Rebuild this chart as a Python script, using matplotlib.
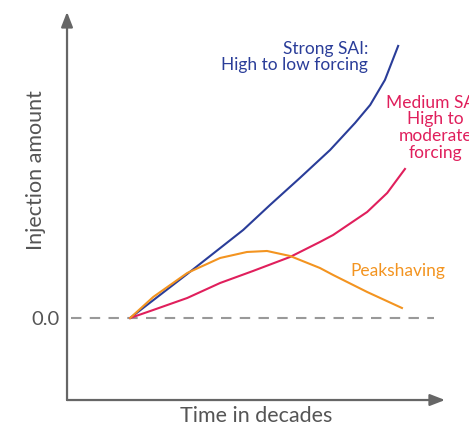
import matplotlib.pyplot as plt

plt.rcParams["font.family"] = ["Lato", "DejaVu Sans"]

# time in decades / injection amount
strong_x = [1.67, 3.18, 4.66, 5.37, 6.16, 6.96, 7.62, 8.02, 8.41, 8.76]
strong_y = [0.0, 0.44, 0.88, 1.13, 1.40, 1.68, 1.95, 2.13, 2.38, 2.72]

medium_x = [1.67, 2.28, 3.18, 4.05, 4.92, 5.90, 6.69, 7.04, 7.94, 8.47, 8.94]
medium_y = [0.0, 0.08, 0.20, 0.35, 0.47, 0.61, 0.76, 0.83, 1.06, 1.25, 1.49]

peak_x = [1.67, 2.28, 3.18, 4.05, 4.76, 5.29, 5.90, 6.69, 7.04, 7.94, 8.86]
peak_y = [0.0, 0.21, 0.45, 0.60, 0.66, 0.67, 0.62, 0.50, 0.43, 0.26, 0.10]

blue = "#2a3d99"
red = "#e01f5c"
orange = "#f39420"
grey = "#555555"

fig = plt.figure(figsize=(4.69, 4.26), dpi=100)
ax = fig.add_axes([0.1429, 0.061, 0.806, 0.911])
ax.set_xlim(0, 10)
ax.set_ylim(-0.82, 3.06)

for s in ax.spines.values():
    s.set_visible(False)
ax.set_xticks([])
ax.set_yticks([0.0])
ax.set_yticklabels(["0.0"], fontsize=14.5, color=grey)
ax.tick_params(axis="y", length=0, pad=5)

# axis arrows
arrow = dict(arrowstyle="-|>,head_length=0.9,head_width=0.35", color="#666666", lw=1.6,
             shrinkA=0, shrinkB=0)
ax.annotate("", xy=(0, 1), xytext=(0, 0), xycoords="axes fraction", arrowprops=arrow)
ax.annotate("", xy=(1, 0), xytext=(0, 0), xycoords="axes fraction", arrowprops=arrow)

ax.axhline(0, xmin=0.01, xmax=0.97, color="#999999", lw=1.5, ls=(0, (5, 4)))

ax.plot(strong_x, strong_y, color=blue, lw=1.5, solid_joinstyle="round")
ax.plot(medium_x, medium_y, color=red, lw=1.5, solid_joinstyle="round")
ax.plot(peak_x, peak_y, color=orange, lw=1.5, solid_joinstyle="round")

ax.text(7.96, 2.61, "Strong SAI:\nHigh to low forcing", color=blue, fontsize=12.5,
        ha="right", va="center", multialignment="right", linespacing=1.05)
ax.text(9.74, 1.90, "Medium SAI:\nHigh to\nmoderate\nforcing", color=red, fontsize=12.5,
        ha="center", va="center", multialignment="center", linespacing=1.07)
ax.text(7.49, 0.47, "Peakshaving", color=orange, fontsize=12.5, ha="left", va="center")

ax.set_xlabel("Time in decades", fontsize=15.5, color=grey, labelpad=4)
ax.set_ylabel("Injection amount", fontsize=15.5, color=grey)
ax.yaxis.set_label_coords(-0.056, 0.593)

fig.savefig("out.png", dpi=100)
